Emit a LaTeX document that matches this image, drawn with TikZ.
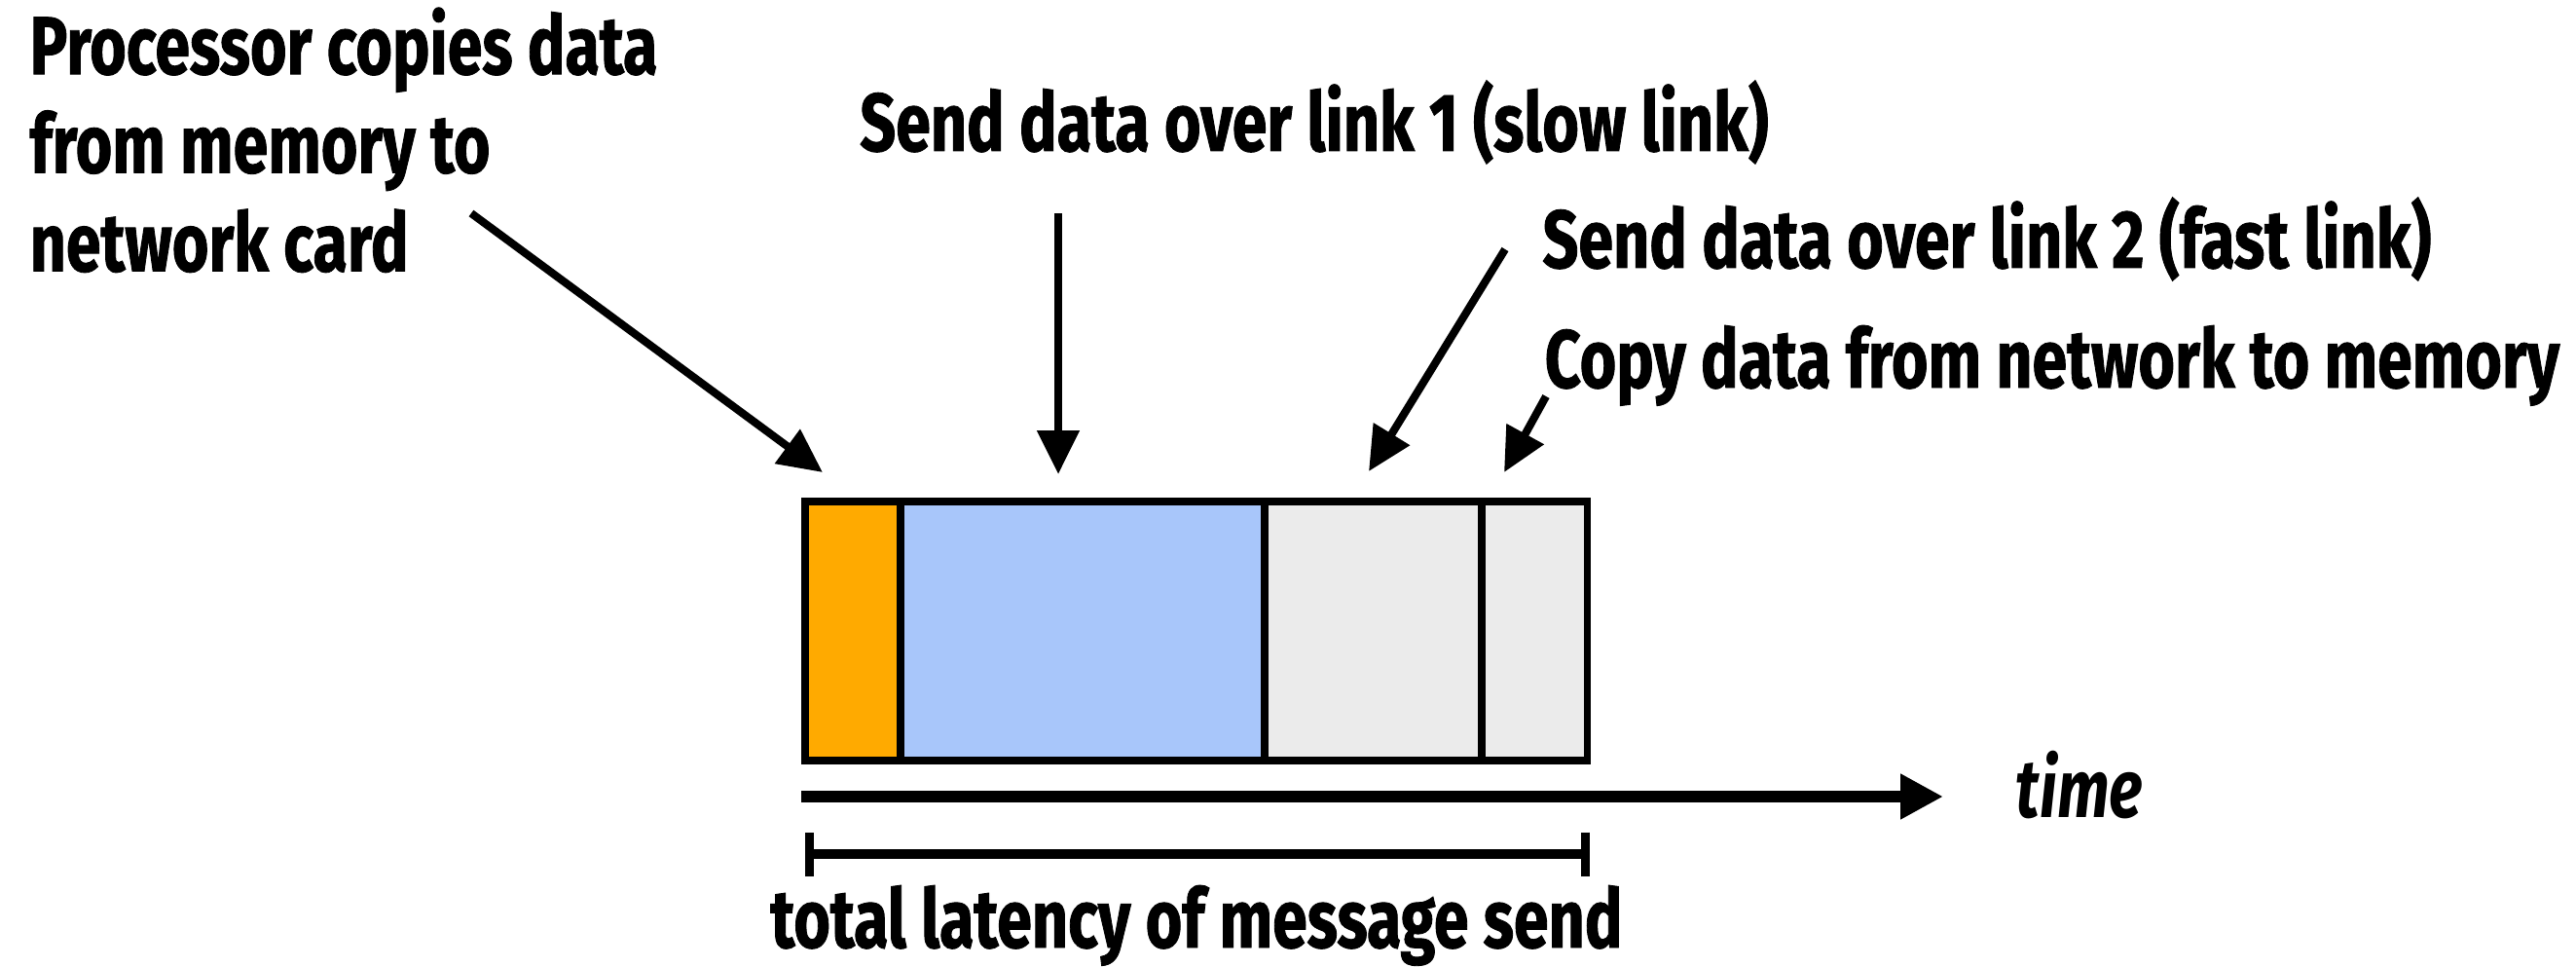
\documentclass[tikz,border=0pt]{standalone}
\usepackage{fontspec}
\setmainfont{Fira Sans}[FakeStretch=0.765,BoldFeatures={FakeBold=1}]
\usetikzlibrary{arrows.meta,positioning}

\definecolor{cpyorange}{HTML}{FFAA00}
\definecolor{slowblue}{HTML}{A8C6FA}
\definecolor{fastgray}{HTML}{EBEBEB}

\tikzset{
  seg/.style={draw=black,line width=2pt,minimum height=2.66cm,inner sep=0pt,outer sep=0pt},
  lbl/.style={font=\bfseries\fontsize{24}{28.8}\selectfont,inner sep=0pt},
  pointer/.style={line width=2.3pt,-{Triangle[length=.45cm,width=.42cm]}}
}

\begin{document}
\begin{tikzpicture}[x=1cm,y=1cm]
\useasboundingbox (0,0) rectangle (26.46,9.92);

% the message, stage by stage
\node[seg,fill=cpyorange,minimum width=.98cm,anchor=south west] (segcpy) at (8.27,2.11) {};
\node[seg,fill=slowblue,minimum width=3.74cm,right=0pt of segcpy] (segslow) {};
\node[seg,fill=fastgray,minimum width=2.23cm,right=0pt of segslow] (segfast) {};
\node[seg,fill=fastgray,minimum width=1.08cm,right=0pt of segfast] (segmem) {};

% labels
\node[lbl,align=left,anchor=north west] (lblcpu) at (.30,9.85) {Processor copies data\\from memory to\\network card};
\node[lbl,anchor=base] (lblslow) at (13.50,8.37) {Send data over link 1 (slow link)};
\node[lbl,anchor=base] (lblfast) at (20.41,7.17) {Send data over link 2 (fast link)};
\node[lbl,anchor=base] (lblmem) at (21.08,5.94) {Copy data from network to memory};

\coordinate (t1) at (4.84,7.73);  \coordinate (h1) at (8.45,5.07);
\coordinate (t2) at (10.87,7.73); \coordinate (h2) at (10.87,5.05);
\coordinate (t3) at (15.46,7.36); \coordinate (h3) at (14.06,5.08);
\coordinate (t4) at (15.88,5.85); \coordinate (h4) at (15.45,5.07);
\foreach \i in {1,...,4}
  \draw[pointer] (t\i) -- (h\i);

% time axis
\coordinate (tstart) at (8.23,1.74);
\coordinate (tend) at (19.96,1.74);
\draw[line width=3.2pt,-{Triangle[length=.44cm,width=.44cm]}] (tstart) -- (tend);
\node[lbl,font=\bfseries\itshape\fontsize{24}{28.8}\selectfont,anchor=base] (lbltime) at (21.36,1.53) {time};

% total latency
\coordinate (bl) at (8.27,1.15);
\coordinate (br) at (16.33,1.15);
\draw[line width=2.7pt,{Bar[width=.45cm]}-{Bar[width=.45cm]}] (bl) -- (br);
\node[lbl,anchor=base] (lbltotal) at (12.29,.19) {total latency of message send};
\end{tikzpicture}
\end{document}
